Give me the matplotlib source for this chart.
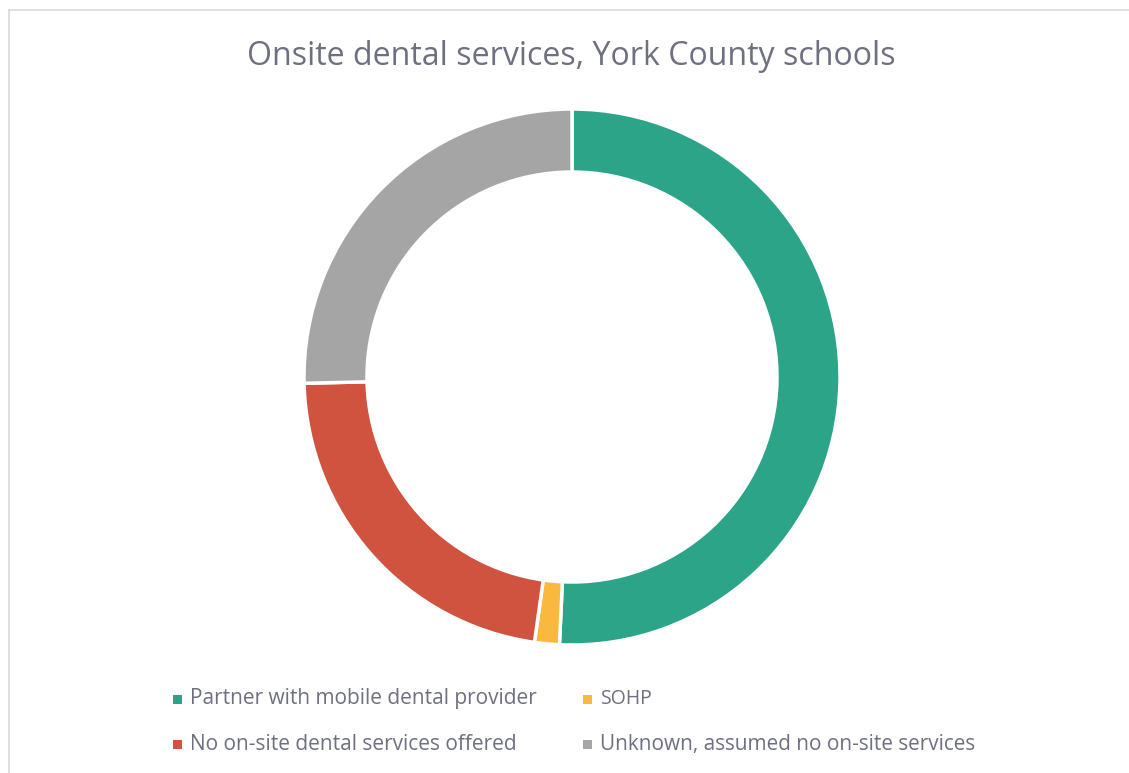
import matplotlib
matplotlib.use("Agg")
import matplotlib.pyplot as plt
from matplotlib.lines import Line2D
from matplotlib.patches import Rectangle

categories = ["Partner with mobile dental provider", "SOHP",
              "No on-site dental services offered", "Unknown, assumed no on-site services"]
values = [34, 1, 15, 17]
colors = ["#2BA488", "#F9B93D", "#D05340", "#A5A5A5"]
title = "Onsite dental services, York County schools"

W, H = 1129, 773
TXT = "#6E7080"
plt.rcParams['font.family'] = ['Open Sans', 'DejaVu Sans']

fig = plt.figure(figsize=(W / 100, H / 100), dpi=100)
fig.patch.set_facecolor("white")

# frame lines (left and top)
fig.add_artist(Line2D([8.5 / W, 8.5 / W], [0, 1 - 9.5 / H], transform=fig.transFigure,
                      color="#D9D9D9", lw=1.2))
fig.add_artist(Line2D([8.5 / W, 1], [1 - 9.5 / H, 1 - 9.5 / H], transform=fig.transFigure,
                      color="#D9D9D9", lw=1.2))

cx, cy, R = 572, 377, 268
ax = fig.add_axes([(cx - R) / W, (H - cy - R) / H, 2 * R / W, 2 * R / H])
ax.pie(values, colors=colors, startangle=90, counterclock=False, radius=1,
       wedgeprops=dict(width=63 / R, edgecolor="white", linewidth=2.5))
ax.set_xlim(-1, 1)
ax.set_ylim(-1, 1)
ax.set_aspect("equal")
ax.axis("off")

renderer = fig.canvas.get_renderer()


def fit_text(x_left, y_base, s, target_w, size0=16):
    t = fig.text(x_left / W, 1 - y_base / H, s, fontsize=size0, color=TXT,
                 ha="left", va="baseline")
    bb = t.get_window_extent(renderer)
    t.set_fontsize(size0 * target_w / bb.width)
    return t


fit_text(247, 65, title, 651, 24)

# legend
leg_pos = [(173, 699, 704), (583, 699, 704), (173, 744.5, 750), (583, 744.5, 750)]
leg_w = [350, 52, 328, 378]
for (x, ym, yb), lab, col, tw in zip(leg_pos, categories, colors, leg_w):
    fig.add_artist(Rectangle((x / W, 1 - (ym + 4.5) / H), 9 / W, 9 / H,
                             transform=fig.transFigure, facecolor=col, edgecolor="none"))
    fit_text(x + 17, yb, lab, tw, 14)

fig.savefig("out.png", dpi=100, facecolor="white")
